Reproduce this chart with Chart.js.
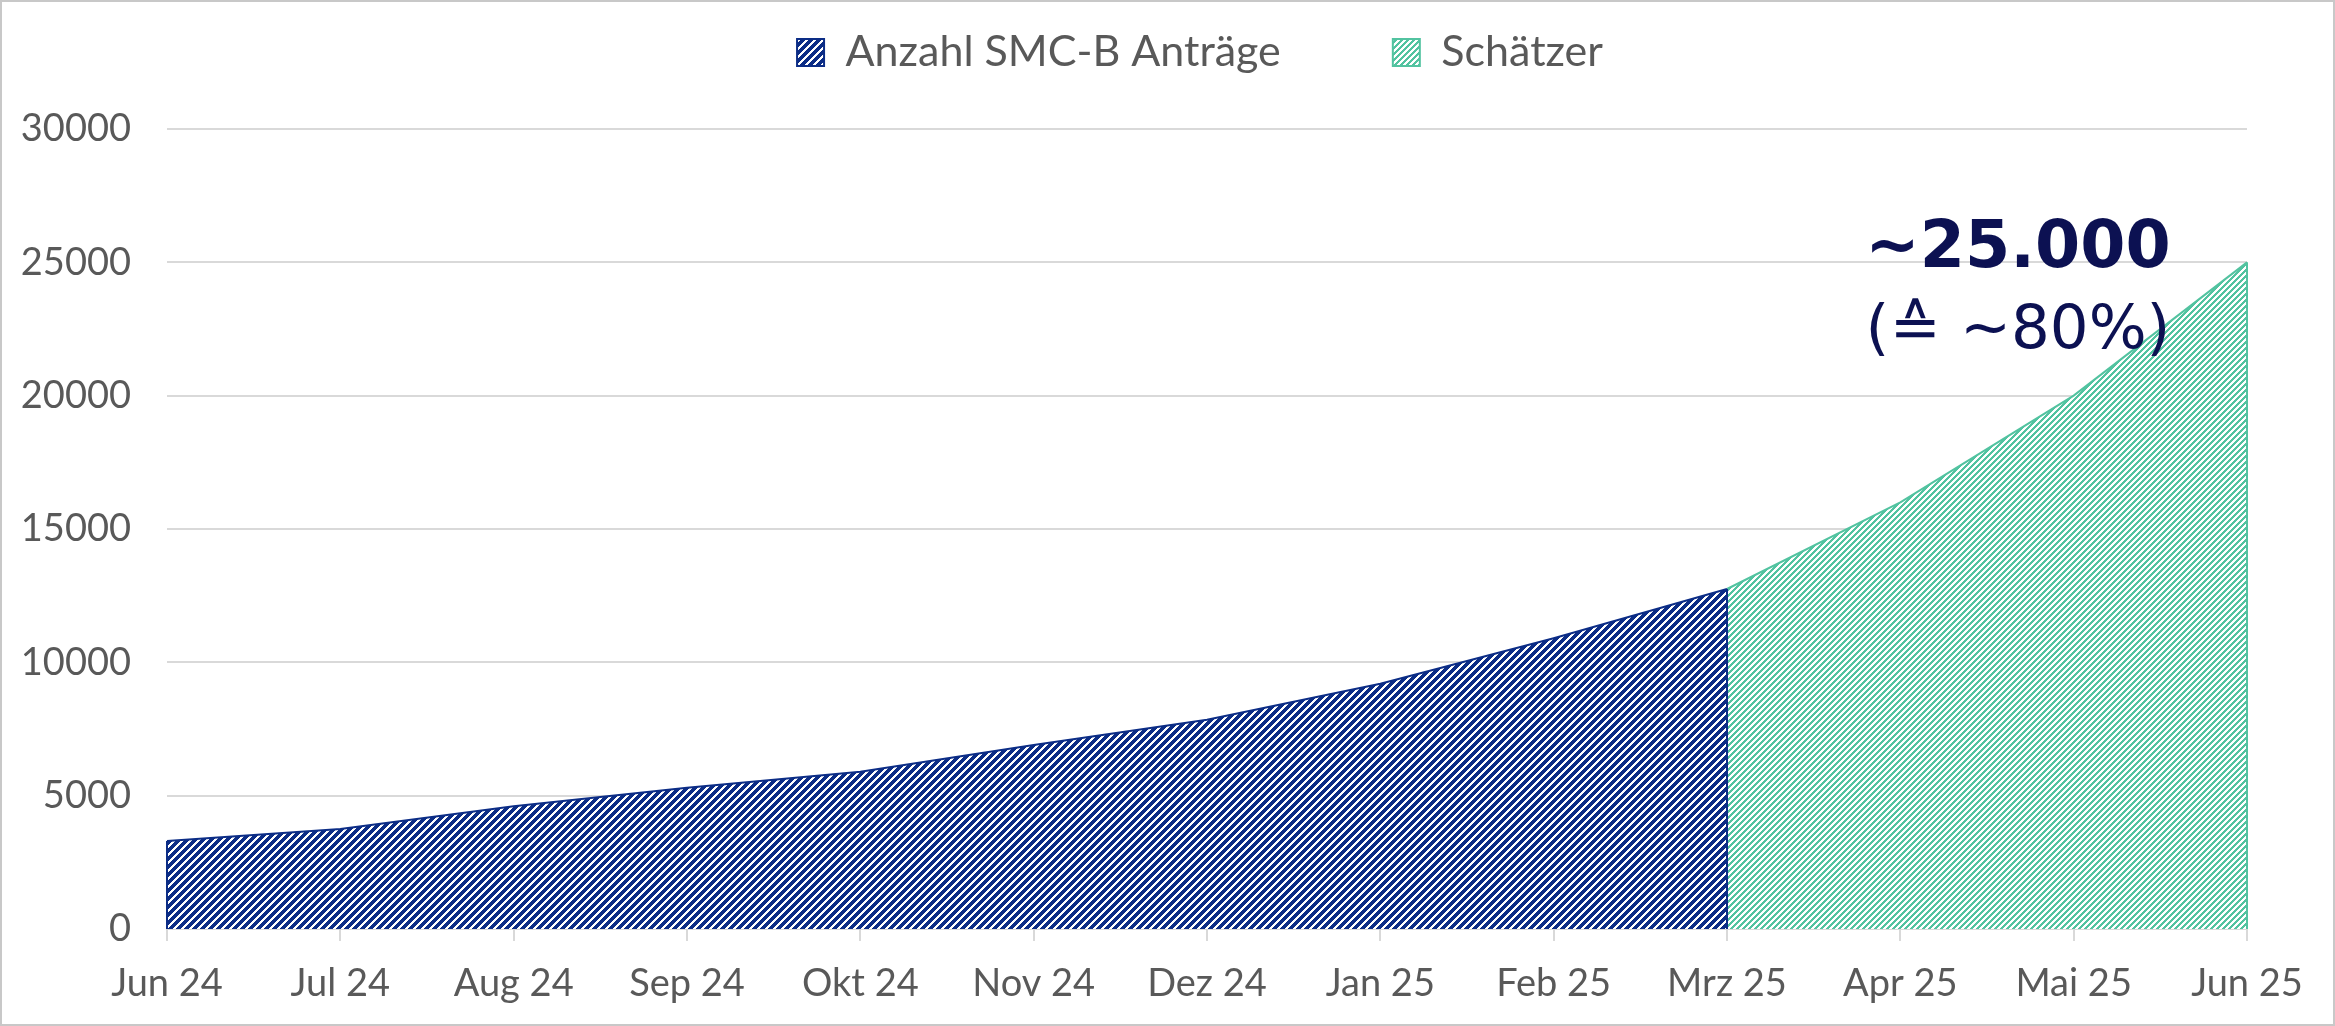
<!DOCTYPE html>
<html>
<head>
<meta charset="UTF-8">
<script src="https://cdn.jsdelivr.net/npm/chart.js@4.4.1/dist/chart.umd.min.js"></script>
<title>Anzahl SMC-B Anträge</title>
<style>
body{margin:0;background:#fff}
</style>
</head>
<body>
<canvas id="myChart" width="2335" height="1026"></canvas>
<script>
// x-Achse: Monate
var months = ["Jun 24","Jul 24","Aug 24","Sep 24","Okt 24","Nov 24","Dez 24","Jan 25","Feb 25","Mrz 25","Apr 25","Mai 25","Jun 25"];
// Ist-Werte bis Mrz 25
var antraege = [3300,3750,4600,5300,5900,6900,7850,9200,10900,12750,null,null,null];
// Schätzung ab Mrz 25
var schaetzer = [null,null,null,null,null,null,null,null,null,12750,16000,20000,25000];
var yMax = 30000, yStep = 5000;
var noteMain = "~25.000";
var noteSub = "(\u2259 ~80%)";

var blue = "#0c2d86";
var teal = "#52c3a0";
var grey = "#595959";

var ctx = document.getElementById("myChart").getContext('2d');

// Schraffur wie in Excel (Streifen nach rechts oben)
function stripes(color, size, on){
	var c = document.createElement('canvas');
	c.width = size; c.height = size;
	var g = c.getContext('2d');
	g.fillStyle = '#fff';
	g.fillRect(0, 0, size, size);
	g.fillStyle = color;
	for (var x = 0; x < size; x++)
		for (var y = 0; y < size; y++)
			if ((x + y) % size < on) g.fillRect(x, y, 1, 1);
	return ctx.createPattern(c, 'repeat');
}

// Legende etwas nach rechts (mittig über dem ganzen Bild)
var legendShift = {
	id: 'legendShift',
	afterLayout: function(chart){
		if (chart.legend) chart.legend.left = 153;
	}
};

// senkrechte Kanten der Flächen
var edges = {
	id: 'edges',
	afterDatasetsDraw: function(chart){
		var c = chart.ctx, y0 = chart.scales.y.getPixelForValue(0);
		for (var i = chart.data.datasets.length - 1; i >= 0; i--) {
			var ds = chart.data.datasets[i];
			var pts = chart.getDatasetMeta(i).data.filter(function(p, j){ return ds.data[j] !== null; });
			if (!pts.length) continue;
			c.save();
			c.strokeStyle = ds.borderColor;
			c.lineWidth = ds.borderWidth;
			c.beginPath();
			[pts[0], pts[pts.length - 1]].forEach(function(p){
				c.moveTo(p.x, p.y);
				c.lineTo(p.x, y0);
			});
			c.stroke();
			c.restore();
		}
	}
};

// Beschriftung am Endwert
var note = {
	id: 'note',
	afterDraw: function(chart){
		var c = chart.ctx;
		var last = schaetzer.length - 1;
		var x = chart.scales.x.getPixelForValue(last) - 229;
		var y = chart.scales.y.getPixelForValue(schaetzer[last]);
		c.save();
		c.fillStyle = "#0c1152";
		c.textAlign = 'center';
		c.textBaseline = 'alphabetic';
		c.font = "bold 65px 'DejaVu Sans'";
		c.fillText(noteMain, x, y + 5);
		c.font = "61px 'DejaVu Sans'";
		c.fillText(noteSub, x, y + 86);
		c.restore();
	}
};

// Rahmen um das Diagramm
var frame = {
	id: 'frame',
	beforeDraw: function(chart){
		var c = chart.ctx;
		c.save();
		c.fillStyle = '#fff';
		c.fillRect(0, 0, chart.width, chart.height);
		c.strokeStyle = '#c8c8c8';
		c.lineWidth = 2;
		c.strokeRect(1, 1, chart.width - 2, chart.height - 2);
		c.restore();
	}
};

var myChart = new Chart(ctx, {
	type: 'line',
	data: {
		labels: months,
		datasets: [{
			label: "Anzahl SMC-B Anträge",
			data: antraege,
			borderColor: blue,
			borderWidth: 2,
			backgroundColor: stripes(blue, 8, 5),
			fill: 'origin',
			pointRadius: 0,
			tension: 0
		}, {
			label: "Schätzer",
			data: schaetzer,
			borderColor: teal,
			borderWidth: 2,
			backgroundColor: stripes(teal, 6, 3),
			fill: 'origin',
			pointRadius: 0,
			tension: 0
		}]
	},
	options: {
		responsive: false,
		animation: false,
		layout: { padding: { top: -81, right: 88, left: 0, bottom: 0 } },
		plugins: {
			legend: {
				position: 'top',
				labels: {
					boxWidth: 27,
					boxHeight: 27,
					padding: 112,
					color: grey,
					font: { family: 'Lato', size: 43 }
				}
			},
			subtitle: {
				display: true,
				text: '',
				weight: 100,
				font: { size: 10, lineHeight: 1 },
				padding: { top: 35, bottom: 0 }
			},
			tooltip: { enabled: false }
		},
		scales: {
			x: {
				offset: false,
				grid: { drawOnChartArea: false, drawTicks: true, tickLength: 12, color: '#d9d9d9', lineWidth: 2 },
				border: { color: '#d9d9d9', width: 2 },
				ticks: { color: grey, padding: 20, maxRotation: 0, autoSkip: false, font: { family: 'Lato', size: 38 } },
				afterFit: function(s){ s.height = 97; }
			},
			y: {
				min: 0,
				max: yMax,
				grid: { color: '#d9d9d9', lineWidth: 2, drawTicks: false },
				border: { display: false },
				ticks: {
					stepSize: yStep,
					padding: 36,
					color: grey,
					font: { family: 'Lato', size: 38 },
					callback: function(v){ return String(v); }
				},
				afterFit: function(s){ s.width = 167; }
			}
		}
	},
	plugins: [frame, legendShift, edges, note]
});
</script>
</body>
</html>
